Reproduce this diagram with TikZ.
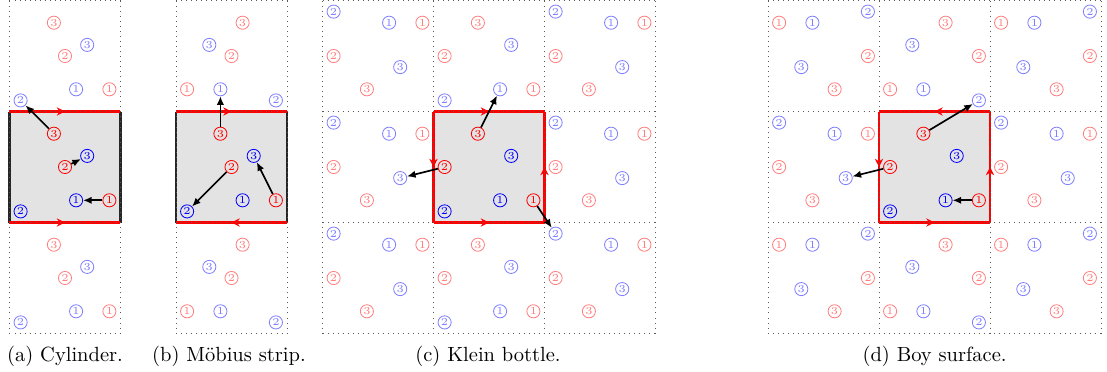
\documentclass[tikz,border=0pt]{standalone}
\usetikzlibrary{arrows.meta,decorations.markings}
\tikzset{
  pt/.style={circle,draw,inner sep=0pt,minimum size=6.4pt,line width=0.4pt,font=\fontsize{5.2}{5.2}\selectfont},
  faded/.style={opacity=0.5},
  gridline/.style={dotted,black!65,line width=0.45pt,step=54.11pt},
  cellfill/.style={fill=black!11},
  glue/.style={red,line width=1.1pt,postaction={decorate},
    decoration={markings,mark=at position 0.5 with {\arrow{Stealth[length=4pt,width=4pt]}}}},
  plain/.style={black!85,line width=1.0pt},
  match/.style={-{Latex[length=4.2pt,width=3.6pt]},line width=0.8pt},
  caption/.style={anchor=base,font=\normalsize}
}
\newcommand\copycell[8]{%
  \foreach \nm/\dg/\px/\py/\col in {r1/1/0.9/0.2/red, r2/2/#8/0.5/red, r3/3/0.4/0.8/red, b1/1/0.6/0.2/blue, b2/2/0.1/0.1/blue, b3/3/0.7/0.6/blue}{
    \pgfmathsetmacro\xx{#4+\px+(#6)*(1-2*\px)}
    \pgfmathsetmacro\yy{#5+\py+(#7)*(1-2*\py)}
    \node[pt,faded,\col] (#1-\nm-#2-#3) at (\xx,\yy) {\dg};
  }%
}
\newcommand\maincell[2]{%
  \foreach \nm/\dg/\px/\py/\col in {r1/1/0.9/0.2/red, r2/2/#2/0.5/red, r3/3/0.4/0.8/red, b1/1/0.6/0.2/blue, b2/2/0.1/0.1/blue, b3/3/0.7/0.6/blue}{
    \node[pt,\col] (#1-\nm) at (\px,\py) {\dg};
  }%
}
\begin{document}
\begin{tikzpicture}
\useasboundingbox (0,0) rectangle (539.66pt,-181.35pt);

% (a) Cylinder
\begin{scope}[shift={(4.63pt,-108.47pt)},x=54.11pt,y=54.11pt]
  \fill[cellfill] (0,0) rectangle (1,1);
  \draw[plain] (0,0) -- (0,1);
  \draw[plain] (1,0) -- (1,1);
  \draw[glue] (0,1) -- (1,1);
  \draw[glue] (0,0) -- (1,0);
  \draw[gridline] (0,-1) grid (1,2);
  \copycell{a}{C}{T}{0}{1}{0}{0}{0.5}
  \copycell{a}{C}{B}{0}{-1}{0}{0}{0.5}
  \maincell{a}{0.5}
  \draw[match] (a-r1) -- (a-b1);
  \draw[match] (a-r2) -- (a-b3);
  \draw[match] (a-r3) -- (a-b2-C-T);
\end{scope}

% (b) Moebius strip
\begin{scope}[shift={(85.8pt,-108.47pt)},x=54.11pt,y=54.11pt]
  \fill[cellfill] (0,0) rectangle (1,1);
  \draw[plain] (0,0) -- (0,1);
  \draw[plain] (1,0) -- (1,1);
  \draw[glue] (0,1) -- (1,1);
  \draw[glue] (1,0) -- (0,0);
  \draw[gridline] (0,-1) grid (1,2);
  \copycell{b}{C}{T}{0}{1}{1}{0}{0.5}
  \copycell{b}{C}{B}{0}{-1}{1}{0}{0.5}
  \maincell{b}{0.5}
  \draw[match] (b-r1) -- (b-b3);
  \draw[match] (b-r2) -- (b-b2);
  \draw[match] (b-r3) -- (b-b1-C-T);
\end{scope}

% (c) Klein bottle
\begin{scope}[shift={(211.33pt,-108.47pt)},x=54.11pt,y=54.11pt]
  \fill[cellfill] (0,0) rectangle (1,1);
  \draw[glue] (0,1) -- (1,1);
  \draw[glue] (0,0) -- (1,0);
  \draw[glue] (0,1) -- (0,0);
  \draw[glue] (1,0) -- (1,1);
  \draw[gridline] (-1,-1) grid (2,2);
  \foreach \dx/\dy/\cn/\rn in {-1/-1/L/B, 0/-1/C/B, 1/-1/R/B, -1/0/L/M, 1/0/R/M, -1/1/L/T, 0/1/C/T, 1/1/R/T}{
    \copycell{c}{\cn}{\rn}{\dx}{\dy}{0}{abs(\dx)}{0.1}
  }
  \maincell{c}{0.1}
  \draw[match] (c-r1) -- (c-b2-R-B);
  \draw[match] (c-r2) -- (c-b3-L-M);
  \draw[match] (c-r3) -- (c-b1-C-T);
\end{scope}

% (d) Boy surface
\begin{scope}[shift={(428.51pt,-108.47pt)},x=54.11pt,y=54.11pt]
  \fill[cellfill] (0,0) rectangle (1,1);
  \draw[glue] (1,1) -- (0,1);
  \draw[glue] (0,0) -- (1,0);
  \draw[glue] (0,1) -- (0,0);
  \draw[glue] (1,0) -- (1,1);
  \draw[gridline] (-1,-1) grid (2,2);
  \foreach \dx/\dy/\cn/\rn in {-1/-1/L/B, 0/-1/C/B, 1/-1/R/B, -1/0/L/M, 1/0/R/M, -1/1/L/T, 0/1/C/T, 1/1/R/T}{
    \copycell{d}{\cn}{\rn}{\dx}{\dy}{abs(\dy)}{abs(\dx)}{0.1}
  }
  \maincell{d}{0.1}
  \draw[match] (d-r1) -- (d-b1);
  \draw[match] (d-r2) -- (d-b3-L-M);
  \draw[match] (d-r3) -- (d-b2-C-T);
\end{scope}

\node[caption] (capa) at (31.7pt,-176pt) {(a) Cylinder.};
\node[caption] (capb) at (111.6pt,-176pt) {(b) M\"obius strip.};
\node[caption] (capc) at (237.9pt,-176pt) {(c) Klein bottle.};
\node[caption] (capd) at (455.6pt,-176pt) {(d) Boy surface.};
\end{tikzpicture}
\end{document}
